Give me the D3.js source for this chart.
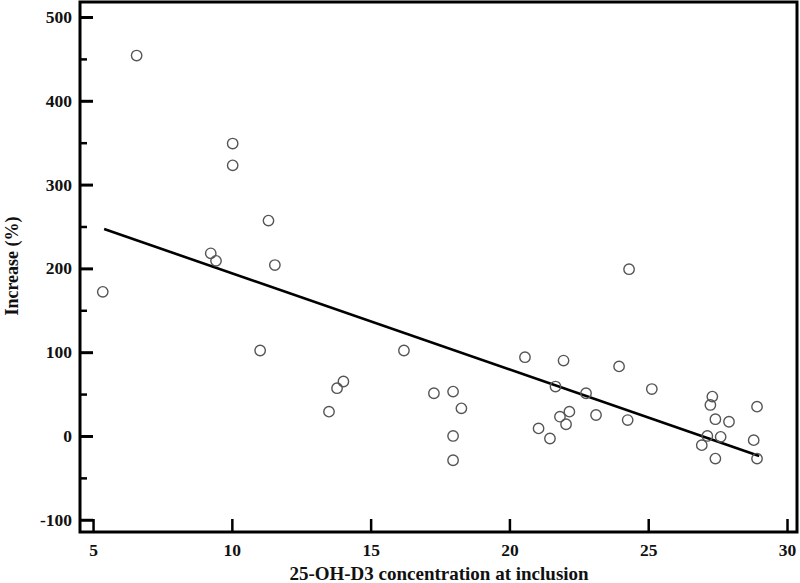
<!DOCTYPE html>
<html><head><meta charset="utf-8">
<script src="https://cdn.jsdelivr.net/npm/d3@7"></script>
<style>body{margin:0;background:#fff}svg{display:block}</style>
</head><body>
<script>
const concentration = [5.35,6.57,9.24,9.43,10.03,10.03,11.32,11.55,11.02,13.5,13.79,14.02,16.2,17.28,17.97,18.27,17.97,17.97,
  20.56,21.95,23.95,24.31,25.13,21.66,22.76,22.16,21.82,22.04,23.12,24.26,21.05,21.46,
  27.31,27.24,28.92,27.42,27.91,27.13,27.61,26.93,28.8,27.42,28.92];
const increase = [172,454,218,209,349,323,257,204,102,29,57,65,102,51,53,33,0,-29,
  94,90,83,199,56,59,51,29,23,14,25,19,9,-3,
  47,37,35,20,17,0,-1,-11,-5,-27,-27];
const trendX = [5.4, 29];
const trendY = [247, -24];
const xTicks = [5,10,15,20,25,30];
const yTicks = [-100,0,100,200,300,400,500];
const yMinor = [-50,50,150,250,350,450];

const W=800,H=583;
const L=80,R=797,T=2,B=532;
const svg=d3.select("body").append("svg").attr("width",W).attr("height",H);
const x=d3.scaleLinear().domain([4.53,30.36]).range([L,R]);
const y=d3.scaleLinear().domain([-114.6,517.9]).range([B,T]);
const font="'Liberation Serif','Times New Roman',serif";
const fmt=d=>String(d);

// y axis
const gy=svg.append("g").attr("transform",`translate(${L},0)`)
  .call(d3.axisLeft(y).tickValues(yTicks).tickSize(-13).tickPadding(8).tickFormat(fmt));
gy.select(".domain").remove();
gy.selectAll(".tick line").attr("stroke","#000").attr("stroke-width",3);
gy.selectAll(".tick text").attr("font-family",font).attr("font-weight","bold").attr("font-size",17.5).attr("fill","#111");
const gym=svg.append("g").attr("transform",`translate(${L},0)`)
  .call(d3.axisLeft(y).tickValues(yMinor).tickSize(-7).tickFormat(""));
gym.select(".domain").remove();
gym.selectAll(".tick line").attr("stroke","#000").attr("stroke-width",2.5);

// x axis
const gx=svg.append("g").attr("transform",`translate(0,${B})`)
  .call(d3.axisBottom(x).tickValues(xTicks).tickSize(-13).tickPadding(12).tickFormat(fmt));
gx.select(".domain").remove();
gx.selectAll(".tick line").attr("stroke","#000").attr("stroke-width",2.5);
gx.selectAll(".tick text").attr("font-family",font).attr("font-weight","bold").attr("font-size",17.5).attr("fill","#111");

// frame
svg.append("rect").attr("x",L).attr("y",T).attr("width",R-L).attr("height",B-T)
  .attr("fill","none").attr("stroke","#000").attr("stroke-width",3);

// trend line
svg.append("line").attr("x1",x(trendX[0])).attr("y1",y(trendY[0])).attr("x2",x(trendX[1])).attr("y2",y(trendY[1]))
  .attr("stroke","#000").attr("stroke-width",2.6);

// points
svg.append("g").selectAll("circle").data(concentration.map((c,i)=>[c,increase[i]])).join("circle")
  .attr("cx",d=>x(d[0])).attr("cy",d=>y(d[1])).attr("r",5.2)
  .attr("fill","none").attr("stroke","#555").attr("stroke-width",1.4);

// titles
svg.append("text").attr("x",439).attr("y",580).attr("text-anchor","middle")
  .attr("font-family",font).attr("font-weight","bold").attr("font-size",19).attr("fill","#111")
  .text("25-OH-D3 concentration at inclusion");
svg.append("text").attr("transform",`translate(18,266) rotate(-90)`).attr("text-anchor","middle")
  .attr("font-family",font).attr("font-weight","bold").attr("font-size",18).attr("fill","#111")
  .text("Increase (%)");
</script>
</body></html>
